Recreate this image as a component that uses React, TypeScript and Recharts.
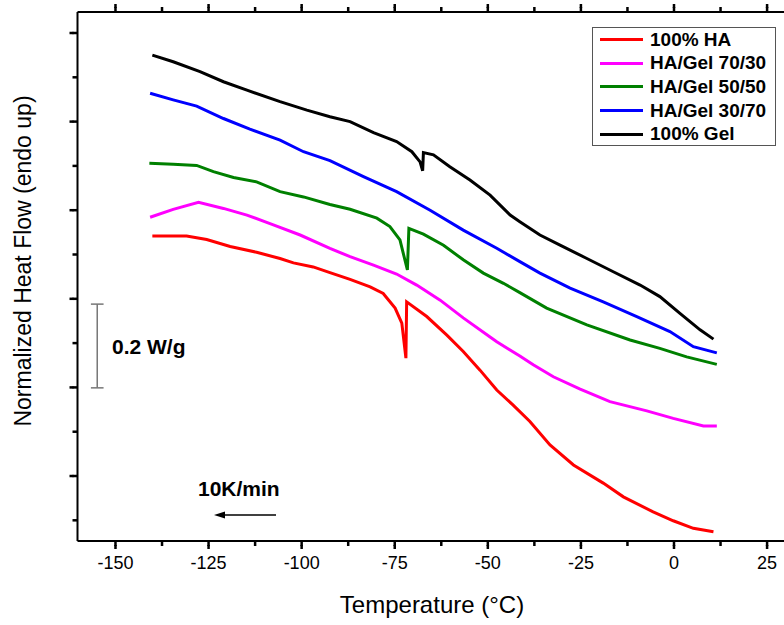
import React from 'react';
import { LineChart, Line, XAxis, YAxis, ReferenceLine } from 'recharts';

// temperature (°C) and normalized heat flow (W/g, arbitrary offset) per sample
const haTemp = [-140.1, -130.9, -125.5, -119.2, -112.1, -105.8, -102.2, -96.9, -92.4, -87.0, -81.6, -78.1, -74.9, -73.1, -72.0, -71.8, -66.4, -61.0, -56.6, -52.1, -47.6, -43.2, -38.7, -33.3, -27.0, -19.0, -13.6, -5.6, -0.2, 5.2, 10.6];
const haFlow = [0.542, 0.542, 0.534, 0.518, 0.505, 0.491, 0.481, 0.472, 0.459, 0.444, 0.427, 0.412, 0.379, 0.345, 0.266, 0.393, 0.36, 0.318, 0.281, 0.239, 0.194, 0.16, 0.123, 0.07, 0.025, -0.016, -0.047, -0.081, -0.101, -0.118, -0.126];

const g7030Temp = [-140.7, -134.5, -127.7, -121.0, -114.7, -107.6, -100.4, -92.4, -87.0, -80.7, -74.5, -69.1, -62.8, -56.6, -49.4, -47.6, -41.4, -37.8, -32.4, -25.2, -17.2, -7.3, -0.2, 7.9, 11.5];
const g7030Flow = [0.584, 0.602, 0.618, 0.604, 0.589, 0.567, 0.544, 0.514, 0.495, 0.476, 0.456, 0.431, 0.397, 0.357, 0.314, 0.303, 0.271, 0.251, 0.224, 0.196, 0.168, 0.147, 0.13, 0.113, 0.113];

const g5050Temp = [-140.9, -134.5, -128.2, -123.7, -118.3, -112.1, -105.8, -99.5, -92.4, -87.0, -79.8, -76.3, -73.6, -71.6, -71.2, -67.3, -61.9, -56.6, -51.2, -45.8, -41.4, -34.2, -23.4, -11.8, -3.8, 3.4, 11.5];
const g5050Flow = [0.706, 0.704, 0.701, 0.687, 0.674, 0.664, 0.642, 0.63, 0.613, 0.602, 0.582, 0.563, 0.533, 0.465, 0.559, 0.546, 0.521, 0.488, 0.458, 0.435, 0.414, 0.379, 0.341, 0.307, 0.288, 0.269, 0.252];

const g3070Temp = [-140.7, -134.5, -128.2, -121.0, -113.9, -105.8, -99.5, -92.4, -83.4, -74.5, -65.5, -56.6, -47.6, -41.4, -36.0, -27.9, -19.0, -10.0, -1.1, 5.2, 11.5];
const g3070Flow = [0.864, 0.849, 0.835, 0.807, 0.783, 0.758, 0.732, 0.712, 0.676, 0.642, 0.6, 0.555, 0.514, 0.484, 0.458, 0.424, 0.393, 0.36, 0.326, 0.292, 0.278];

const gelTemp = [-140.1, -134.5, -127.3, -121.0, -114.7, -105.8, -98.6, -92.4, -87.0, -80.7, -74.5, -70.4, -68.2, -67.5, -67.3, -64.6, -60.2, -54.8, -49.4, -44.0, -41.4, -36.0, -30.6, -23.4, -16.3, -9.1, -3.8, 1.6, 7.0, 10.6];
const gelFlow = [0.95, 0.935, 0.913, 0.89, 0.871, 0.845, 0.826, 0.811, 0.8, 0.775, 0.755, 0.732, 0.709, 0.689, 0.73, 0.725, 0.698, 0.668, 0.634, 0.589, 0.574, 0.544, 0.521, 0.491, 0.461, 0.431, 0.405, 0.367, 0.33, 0.309];

const xTicks = [-150, -137.5, -125, -112.5, -100, -87.5, -75, -62.5, -50, -37.5, -25, -12.5, 0, 12.5, 25];
const yTicks = [-0.1, 0, 0.1, 0.2, 0.3, 0.4, 0.5, 0.6, 0.7, 0.8, 0.9, 1.0];

const xDomain = [-160.2, 30];
const yDomain = [-0.1467, 1.0474];

const toPoints = (t: number[], f: number[]) => t.map((x, i) => ({ t: x, v: f[i] }));

const series = [
  { name: '100% HA', color: '#ff0000', data: toPoints(haTemp, haFlow) },
  { name: 'HA/Gel 70/30', color: '#ff00ff', data: toPoints(g7030Temp, g7030Flow) },
  { name: 'HA/Gel 50/50', color: '#008000', data: toPoints(g5050Temp, g5050Flow) },
  { name: 'HA/Gel 30/70', color: '#0000ff', data: toPoints(g3070Temp, g3070Flow) },
  { name: '100% Gel', color: '#000000', data: toPoints(gelTemp, gelFlow) },
];

const font = '"Liberation Sans", Arial, sans-serif';
const isMajorX = (v: number) => v % 25 === 0;

// native tick lines are the minor length; majors get extended here
const renderBottomTick = (props: any) => {
  const { x, y, payload } = props;
  if (!isMajorX(payload.value)) return <g key={'b' + payload.value} />;
  return (
    <g key={'b' + payload.value}>
      <rect x={x - 1.25} y={y - 1} width={2.5} height={4} fill="#000" />
      <text x={x} y={y + 23} textAnchor="middle" fontSize={18} fontFamily={font} fill="#000">
        {payload.value}
      </text>
    </g>
  );
};

const renderTopTick = (props: any) => {
  const { x, y, payload } = props;
  if (!isMajorX(payload.value)) return <g key={'t' + payload.value} />;
  return <rect key={'t' + payload.value} x={x - 1.25} y={y - 3} width={2.5} height={4} fill="#000" />;
};

const renderLeftTick = (props: any) => {
  const { x, y, payload } = props;
  const major = Math.round(payload.value * 10) % 2 === 0;
  if (!major) return <g key={'l' + payload.value} />;
  return <rect key={'l' + payload.value} x={x - 3} y={y - 1.25} width={4} height={2.5} fill="#000" />;
};

const axisStroke = { stroke: '#000', strokeWidth: 2 };
const tickStroke = { stroke: '#000', strokeWidth: 2.5 };

export default function App() {
  return (
    <div style={{ position: 'absolute', left: 0, top: 0, width: 784, height: 625, overflow: 'hidden', background: '#fff', fontFamily: font }}>
      <LineChart width={800} height={625} margin={{ top: 2, right: 14.3, left: 67.5, bottom: 34 }}>
        <XAxis
          xAxisId="bottom"
          dataKey="t"
          type="number"
          domain={xDomain}
          ticks={xTicks}
          allowDataOverflow
          height={50}
          tickSize={5}
          tickMargin={0}
          tickLine={tickStroke}
          tick={renderBottomTick}
          interval={0}
          axisLine={axisStroke}
        />
        <XAxis
          xAxisId="top"
          orientation="top"
          dataKey="t"
          type="number"
          domain={xDomain}
          ticks={xTicks}
          allowDataOverflow
          height={10}
          tickSize={5}
          tickMargin={0}
          tickLine={tickStroke}
          tick={renderTopTick}
          interval={0}
          axisLine={axisStroke}
        />
        <YAxis
          yAxisId="left"
          type="number"
          domain={yDomain}
          ticks={yTicks}
          allowDataOverflow
          width={10}
          tickSize={5}
          tickMargin={0}
          tickLine={tickStroke}
          tick={renderLeftTick}
          interval={0}
          axisLine={axisStroke}
        />
        {/* 0.2 W/g scale bar */}
        <ReferenceLine xAxisId="bottom" yAxisId="left" ifOverflow="visible" stroke="#777" strokeWidth={1.5}
          segment={[{ x: -154.9, y: 0.199 }, { x: -154.9, y: 0.388 }]} />
        <ReferenceLine xAxisId="bottom" yAxisId="left" ifOverflow="visible" stroke="#777" strokeWidth={1.5}
          segment={[{ x: -156.6, y: 0.388 }, { x: -153.2, y: 0.388 }]} />
        <ReferenceLine xAxisId="bottom" yAxisId="left" ifOverflow="visible" stroke="#777" strokeWidth={1.5}
          segment={[{ x: -156.6, y: 0.199 }, { x: -153.2, y: 0.199 }]} />
        {series.map((s) => (
          <Line
            key={s.name}
            xAxisId="bottom"
            yAxisId="left"
            data={s.data}
            dataKey="v"
            name={s.name}
            type="linear"
            stroke={s.color}
            strokeWidth={3}
            dot={false}
            activeDot={false}
            isAnimationActive={false}
          />
        ))}
      </LineChart>

      {/* axis titles */}
      <div style={{ position: 'absolute', left: 432, top: 605, transform: 'translate(-50%, -50%)', fontSize: 24, whiteSpace: 'nowrap', color: '#000' }}>
        Temperature (°C)
      </div>
      <div style={{ position: 'absolute', left: 23, top: 261, transform: 'translate(-50%, -50%) rotate(-90deg)', fontSize: 23, whiteSpace: 'nowrap', color: '#000' }}>
        Normalized Heat Flow (endo up)
      </div>

      {/* annotations */}
      <div style={{ position: 'absolute', left: 112, top: 347, transform: 'translateY(-50%)', fontSize: 21, fontWeight: 'bold', whiteSpace: 'nowrap' }}>
        0.2 W/g
      </div>
      <div style={{ position: 'absolute', left: 198, top: 489, transform: 'translateY(-50%)', fontSize: 21, fontWeight: 'bold', whiteSpace: 'nowrap' }}>
        10K/min
      </div>
      <svg style={{ position: 'absolute', left: 210, top: 508 }} width={70} height={14}>
        <line x1={10} y1={7} x2={66} y2={7} stroke="#000" strokeWidth={1.5} />
        <polygon points="4,7 15,3.5 15,10.5" fill="#000" />
      </svg>

      {/* legend */}
      <div style={{ position: 'absolute', left: 592, top: 27, width: 184, height: 119, border: '1px solid #555', boxSizing: 'border-box', padding: '0 0 0 7px' }}>
        {series.map((s) => (
          <div key={s.name} style={{ display: 'flex', alignItems: 'center', height: 23.6 }}>
            <div style={{ width: 43, height: 3, background: s.color, marginRight: 7 }} />
            <span style={{ fontSize: 19, fontWeight: 'bold', whiteSpace: 'nowrap' }}>{s.name}</span>
          </div>
        ))}
      </div>
    </div>
  );
}
